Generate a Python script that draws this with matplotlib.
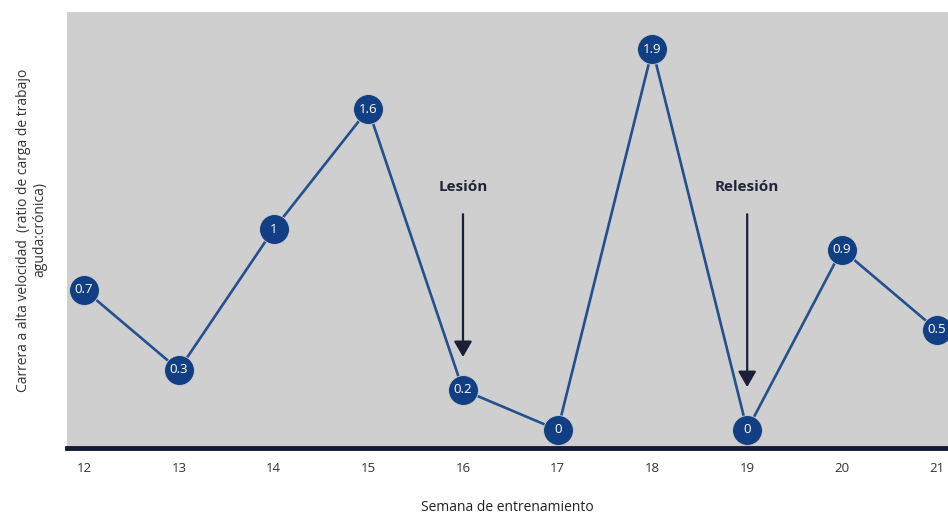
import matplotlib.pyplot as plt

weeks = [12, 13, 14, 15, 16, 17, 18, 19, 20, 21]
ratio = [0.7, 0.3, 1.0, 1.6, 0.2, 0.0, 1.9, 0.0, 0.9, 0.5]
point_labels = ['0.7', '0.3', '1', '1.6', '0.2', '0', '1.9', '0', '0.9', '0.5']

events = ['Lesión', 'Relesión']
event_weeks = [16, 19]
event_tips = [0.35, 0.2]

navy = '#123f84'
plt.rcParams['font.family'] = ['Open Sans', 'DejaVu Sans']

fig = plt.figure(figsize=(9.48, 5.16), dpi=100)
ax = fig.add_axes([0.0707, 0.1318, 0.9293, 0.845])
ax.set_facecolor('#cfcfcf')

ax.plot(weeks, ratio, color='#23508f', linewidth=1.9, zorder=2)
ax.plot(weeks, ratio, 'o', markersize=21.5, color=navy, markeredgecolor='#cfcfcf',
        markeredgewidth=0.6, zorder=3, clip_on=False)
for w, v, lab in zip(weeks, ratio, point_labels):
    ax.text(w, v, lab, ha='center', va='center', color='white', fontsize=9.5, zorder=4)

for name, w, tip in zip(events, event_weeks, event_tips):
    ax.text(w, 1.21, name, ha='center', va='center', fontsize=11, fontweight='bold',
            color='#22243a')
    ax.annotate('', xy=(w, tip), xytext=(w, 1.09),
                arrowprops=dict(arrowstyle='-|>,head_length=0.95,head_width=0.55',
                                color='#1c1f38', linewidth=1.6))

ax.set_xlim(11.82, 21.12)
ax.set_ylim(-0.09, 2.085)
ax.set_xticks(weeks)
ax.set_yticks([])
ax.tick_params(axis='x', length=0, pad=10, labelsize=9.5, labelcolor='#333333')
for s in ['top', 'right', 'left']:
    ax.spines[s].set_visible(False)
ax.spines['bottom'].set_color('#151a35')
ax.spines['bottom'].set_linewidth(3.5)

ax.set_xlabel('Semana de entrenamiento', fontsize=10, color='#222222', labelpad=18)
ax.set_ylabel('Carrera a alta velocidad  (ratio de carga de trabajo\naguda:crónica)',
              fontsize=10, color='#333333', labelpad=14, linespacing=1.1)

fig.savefig('out.png', dpi=100)
